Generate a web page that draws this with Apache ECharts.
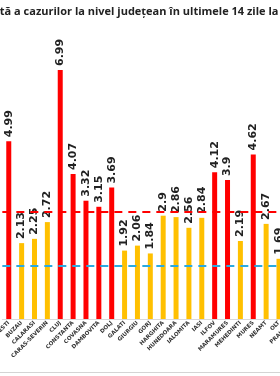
<!DOCTYPE html>
<html>
<head>
<meta charset="utf-8"/>
<title>Incidența cumulată</title>
<script src="https://cdn.jsdelivr.net/npm/echarts@6/dist/echarts.min.js"></script>
<style>
	html, body { margin: 0; padding: 0; overflow: hidden; background: #fff; }
	#wrap { position: relative; width: 280px; height: 376px; overflow: hidden; }
	#chart { position: absolute; left: -20px; top: 0; width: 330px; height: 376px; }
	#edge { position: absolute; left: 0; top: 372px; width: 280px; height: 1px; background: #d4d4d4; }
</style>
</head>
<body>
<div id="wrap">
	<div id="chart"></div>
	<div id="edge"></div>
</div>
<script type="text/javascript">
	var titleText = 'Incidența cumulată a cazurilor la nivel județean în ultimele 14 zile la 1000 de locuitori';
	var counties = ['BUCURESTI', 'BUZAU', 'CALARASI', 'CARAS-SEVERIN', 'CLUJ', 'CONSTANTA', 'COVASNA',
		'DAMBOVITA', 'DOLJ', 'GALATI', 'GIURGIU', 'GORJ', 'HARGHITA', 'HUNEDOARA', 'IALOMITA', 'IASI',
		'ILFOV', 'MARAMURES', 'MEHEDINTI', 'MURES', 'NEAMT', 'OLT', 'PRAHOVA'];
	var incidence = [4.99, 2.13, 2.25, 2.72, 6.99, 4.07, 3.32, 3.15, 3.69, 1.92, 2.06, 1.84, 2.9, 2.86,
		2.56, 2.84, 4.12, 3.9, 2.19, 4.62, 2.67, 1.69, '-'];
	var redLimit = 3;
	var blueLimit = 1.5;

	var barData = incidence.map(function(v) {
		return {
			value: v,
			itemStyle: { color: v > redLimit ? '#FF0000' : '#FFC000' }
		};
	});

	var chart = echarts.init(document.getElementById('chart'));
	chart.setOption({
		animation: false,
		graphic: [{
			type: 'text',
			x: 158,
			y: 12,
			style: {
				text: titleText,
				align: 'center',
				verticalAlign: 'middle',
				fontFamily: 'Open Sans',
				fontSize: 11,
				fontWeight: 'bold',
				fill: '#222'
			}
		}],
		grid: {
			left: 14.7,
			right: 11.7,
			top: 34,
			bottom: 57,
			containLabel: false
		},
		xAxis: {
			type: 'category',
			data: counties,
			axisLine: { show: true, lineStyle: { color: '#d9d9d9', width: 1 } },
			axisTick: { show: false },
			axisLabel: {
				interval: 0,
				rotate: 45,
				margin: 3,
				fontSize: 5.5,
				fontWeight: 'bold',
				fontFamily: 'DejaVu Sans',
				color: '#333'
			}
		},
		yAxis: {
			type: 'value',
			min: 0,
			max: 8,
			show: false,
			splitLine: { show: false }
		},
		series: [{
			type: 'bar',
			data: barData,
			barWidth: 5,
			label: {
				show: true,
				position: 'top',
				rotate: 90,
				align: 'left',
				verticalAlign: 'middle',
				distance: 4,
				fontSize: 11,
				fontWeight: 'bold',
				fontFamily: 'DejaVu Sans',
				color: '#222'
			},
			markLine: {
				silent: true,
				symbol: 'none',
				label: { show: false },
				data: [
					{ yAxis: redLimit, lineStyle: { color: '#FF0000', type: [8, 6], width: 2 } },
					{ yAxis: blueLimit, lineStyle: { color: '#2AAAE1', type: [8, 6], width: 2 } }
				]
			}
		}]
	});
</script>
</body>
</html>
